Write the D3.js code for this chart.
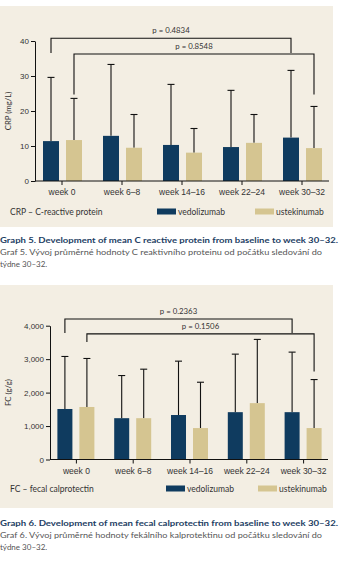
<!DOCTYPE html>
<html>
<head>
<meta charset="utf-8">
<script src="https://cdn.jsdelivr.net/npm/d3@7"></script>
<style>
  body { margin: 0; background: #fff; }
  svg { display: block; font-family: Lato, "Open Sans", sans-serif; }
  .axis text { fill: #333; font-size: 8px; }
  .axis path, .axis line { stroke: #111; }
</style>
</head>
<body>
<svg width="341" height="566"></svg>
<script>
let svg = d3.select("svg")

const weeks = ["week 0", "week 6–8", "week 14–16", "week 22–24", "week 30–32"]
const series = ["vedolizumab", "ustekinumab"]
const colors = {vedolizumab: "#0f3b5f", ustekinumab: "#d5c591"}

// CRP (mg/L), mean and mean+sd
const crpVedo = [11.4, 12.9, 10.3, 9.7, 12.4]
const crpVedoTop = [29.6, 33.3, 27.6, 25.9, 31.6]
const crpUste = [11.7, 9.5, 8.1, 10.9, 9.4]
const crpUsteTop = [23.6, 19.0, 15.0, 19.0, 21.3]
const crpTicks = [0, 10, 20, 30, 40]

// FC (g/g)
const fcVedo = [1510, 1235, 1330, 1415, 1415]
const fcVedoTop = [3080, 2510, 2940, 3150, 3210]
const fcUste = [1570, 1235, 940, 1685, 940]
const fcUsteTop = [3020, 2700, 2310, 3590, 2390]
const fcTicks = [0, 1000, 2000, 3000, 4000]

// comparison brackets: [series, category] pairs, line level, drop ends
const crpBrackets = [
  {label: "p = 0.4834", from: 0, to: 4, s: "vedolizumab", level: 40.8, endL: 36.6, endR: 36.6},
  {label: "p = 0.8548", from: 0, to: 4, s: "ustekinumab", level: 36.3, endL: 24.7, endR: 24.7}
]
const fcBrackets = [
  {label: "p = 0.2363", from: 0, to: 4, s: "vedolizumab", level: 4200, endL: 3780, endR: 3780},
  {label: "p = 0.1506", from: 0, to: 4, s: "ustekinumab", level: 3757, endL: 3510, endR: 2630}
]

function drawChart(cfg) {
  let g = svg.append("g")

  g.append("rect")
    .attr("x", 0).attr("y", cfg.panel[0])
    .attr("width", 333).attr("height", cfg.panel[1] - cfg.panel[0])
    .attr("fill", "#f3eee3")

  let x = d3.scaleBand().domain(weeks).range(cfg.xRange).padding(0)
  let x1 = d3.scaleBand().domain(series).range(cfg.innerRange).paddingInner(cfg.innerPad)
  let y = d3.scaleLinear().domain([0, cfg.ticks[cfg.ticks.length - 1]]).range(cfg.yRange)

  let rows = []
  weeks.forEach((w, i) => {
    rows.push({week: w, s: "vedolizumab", mean: cfg.vedo[i], top: cfg.vedoTop[i]})
    rows.push({week: w, s: "ustekinumab", mean: cfg.uste[i], top: cfg.usteTop[i]})
  })
  const cx = d => x(d.week) + x.bandwidth() / 2 + x1(d.s) + x1.bandwidth() / 2

  // error bars
  g.selectAll(".err").data(rows).join("line")
    .attr("x1", cx).attr("x2", cx)
    .attr("y1", d => y(d.mean)).attr("y2", d => y(d.top))
    .attr("stroke", "#111").attr("stroke-width", 1.1)
  g.selectAll(".cap").data(rows).join("line")
    .attr("x1", d => cx(d) - 3.5).attr("x2", d => cx(d) + 3.5)
    .attr("y1", d => y(d.top)).attr("y2", d => y(d.top))
    .attr("stroke", "#111").attr("stroke-width", 1.1)

  // bars
  g.selectAll(".bar").data(rows).join("rect")
    .attr("x", d => cx(d) - x1.bandwidth() / 2)
    .attr("width", x1.bandwidth())
    .attr("y", d => y(d.mean))
    .attr("height", d => y(0) - y(d.mean))
    .attr("fill", d => colors[d.s])

  // y axis
  g.append("g")
    .attr("class", "axis")
    .attr("transform", "translate(" + cfg.yAxisX + ",0)")
    .call(d3.axisLeft(y).tickValues(cfg.ticks).tickFormat(cfg.fmt).tickSize(4).tickSizeOuter(0))
    .call(a => a.selectAll("text").attr("x", -6))

  // x axis
  let xa = g.append("g")
    .attr("class", "axis")
    .attr("transform", "translate(0," + y(0) + ")")
    .call(d3.axisBottom(x).tickSize(4).tickSizeOuter(0))
  xa.select(".domain").remove()
  xa.append("line")
    .attr("x1", cfg.yAxisX).attr("x2", cfg.xAxisEnd)
    .attr("stroke", "#111")
  xa.selectAll("text").attr("y", 8).style("font-size", "8.5px")

  // y label
  g.append("text")
    .attr("transform", "translate(" + cfg.labelX + "," + (y(0) + y(cfg.ticks[cfg.ticks.length - 1])) / 2 + ") rotate(-90)")
    .attr("text-anchor", "middle")
    .attr("font-size", 7.8).attr("fill", "#333")
    .text(cfg.yLabel)

  // p-value brackets
  cfg.brackets.forEach(b => {
    let xl = cx({week: weeks[b.from], s: b.s})
    let xr = cx({week: weeks[b.to], s: b.s})
    let line = d3.line()
    g.append("path")
      .attr("d", line([[xl, y(b.endL)], [xl, y(b.level)], [xr, y(b.level)], [xr, y(b.endR)]]))
      .attr("fill", "none").attr("stroke", "#111").attr("stroke-width", 1.1)
    g.append("text")
      .attr("x", (xl + xr) / 2).attr("y", y(b.level) - 5)
      .attr("text-anchor", "middle")
      .attr("font-size", 7.8).attr("fill", "#333")
      .text(b.label)
  })

  // legend
  g.append("text")
    .attr("x", 10).attr("y", cfg.legendY + 3)
    .attr("font-size", 8.5).attr("fill", "#333")
    .text(cfg.note)
  series.forEach((s, i) => {
    g.append("rect")
      .attr("x", cfg.legendX[i]).attr("y", cfg.legendY - 3)
      .attr("width", 19).attr("height", 6)
      .attr("fill", colors[s])
    g.append("text")
      .attr("x", cfg.legendX[i] + 21).attr("y", cfg.legendY + 3)
      .attr("font-size", 8.5).attr("fill", "#333")
      .text(s)
  })

  // caption
  g.append("text")
    .attr("x", 0).attr("y", cfg.captionY)
    .attr("font-size", 8.3).attr("font-weight", "bold").attr("fill", "#1c3d63")
    .attr("textLength", 338).attr("lengthAdjust", "spacingAndGlyphs")
    .text(cfg.caption)
  g.append("text")
    .attr("x", 0).attr("y", cfg.captionY + 12)
    .attr("font-size", 8).attr("fill", "#555")
    .attr("textLength", 322).attr("lengthAdjust", "spacingAndGlyphs")
    .text(cfg.caption2)
  g.append("text")
    .attr("x", 0).attr("y", cfg.captionY + 24)
    .attr("font-size", 8).attr("fill", "#555")
    .text("týdne 30–32.")
}

drawChart({
  panel: [6, 227],
  xRange: [32, 332], xAxisEnd: 329, yAxisX: 35, labelX: 11,
  yRange: [181, 41],
  innerRange: [-19, 20], innerPad: 0.304,
  ticks: crpTicks, fmt: d3.format("d"),
  vedo: crpVedo, vedoTop: crpVedoTop, uste: crpUste, usteTop: crpUsteTop,
  brackets: crpBrackets,
  yLabel: "CRP (mg/L)",
  note: "CRP – C-reactive protein",
  legendY: 211.5, legendX: [157, 255],
  captionY: 243,
  caption: "Graph 5. Development of mean C reactive protein from baseline to week 30–32.",
  caption2: "Graf 5. Vývoj průměrné hodnoty C reaktivního proteinu od počátku sledování do"
})

drawChart({
  panel: [285, 508],
  xRange: [48, 332], xAxisEnd: 328, yAxisX: 50, labelX: 11,
  yRange: [459.5, 325.7],
  innerRange: [-19, 18], innerPad: 0.318,
  ticks: fcTicks, fmt: d3.format(","),
  vedo: fcVedo, vedoTop: fcVedoTop, uste: fcUste, usteTop: fcUsteTop,
  brackets: fcBrackets,
  yLabel: "FC (g/g)",
  note: "FC – fecal calprotectin",
  legendY: 488.5, legendX: [166, 258],
  captionY: 526,
  caption: "Graph 6. Development of mean fecal calprotectin from baseline to week 30–32.",
  caption2: "Graf 6. Vývoj průměrné hodnoty fekálního kalprotektinu od počátku sledování do"
})
</script>
</body>
</html>
